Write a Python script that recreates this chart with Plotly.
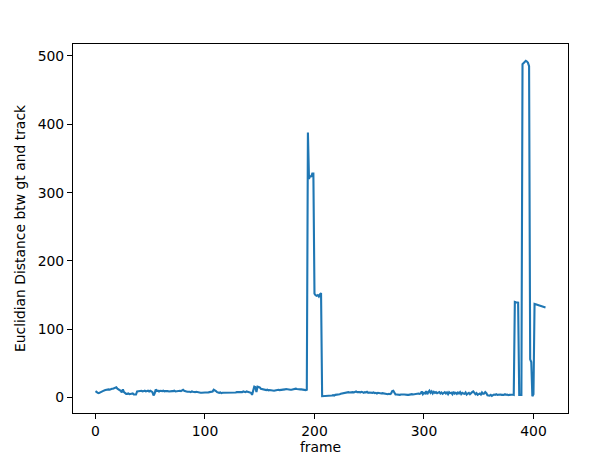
import plotly.graph_objects as go

dist = [
    9.5, 8, 7, 6.5, 7.5, 8.5, 9.5, 10, 10.5, 11,
    11.5, 12, 12, 11.5, 12.5, 13, 13, 13.5, 14, 15,
    13, 12, 11.5, 10, 7.5, 12, 8, 6, 5.5, 5.5,
    6, 5, 5.5, 5, 6, 4.5, 4, 4.5, 9, 9.5,
    9, 9.5, 10, 9, 9.5, 10, 9, 9.5, 10, 9,
    10, 9, 8, 3, 6, 12, 9.5, 10, 9, 10,
    9.5, 9.5, 10, 9, 9.5, 10, 9.5, 9, 9.5, 10,
    9.5, 9.5, 10, 9, 9.5, 9.5, 10, 10, 9.5, 10.5,
    11.5, 10, 9, 9, 8.5, 9, 8.5, 8, 9, 8.5,
    8, 8, 8.5, 8, 7, 7.5, 7, 7, 7.5, 7,
    7.5, 7.5, 7, 7.5, 8, 8, 9, 9, 11.5, 11,
    9.5, 8, 7, 7, 7.5, 6.5, 7, 7, 7.5, 7,
    7, 6.5, 7, 7, 7.5, 7, 7, 7.5, 7.5, 8,
    8, 8.5, 7.5, 8, 8, 9, 8.5, 8, 9, 8.5,
    9, 8.5, 7, 4, 9, 16, 15.5, 8, 16, 16,
    15, 13, 12.5, 13, 11.5, 11, 11, 11.5, 10.5, 11,
    10.5, 10, 10, 10, 10.5, 11, 11, 11.5, 11, 11,
    11.5, 11, 11.5, 12, 12.5, 12, 11.5, 11, 11.5, 11.5,
    12, 12.5, 13, 13, 12.5, 12, 11.5, 12, 12, 11.5,
    11.5, 11, 11, 11.5, 388, 320, 325, 323, 328, 328,
    152, 150, 149, 150, 148, 151, 153, 2, 2, 2.5,
    2.5, 3, 2.5, 2.5, 3, 3, 3, 3.5, 3, 4,
    4, 4.5, 4, 5, 5.5, 6, 6.5, 7, 7.5, 7,
    7.5, 8, 7.5, 8, 8.5, 8, 7.5, 8, 9, 8,
    8.5, 8, 7.5, 8.5, 8, 7, 8, 7.5, 8.5, 7,
    7.5, 7, 6.5, 7, 7.5, 6.5, 7, 6, 7, 6.5,
    6.5, 6, 6.5, 6, 5.5, 6, 5.5, 5, 5.5, 5,
    6, 9.5, 10, 7.5, 4.5, 4.5, 4, 4.5, 4, 4.5,
    4, 4.5, 4.5, 4, 4.5, 4, 4, 4.5, 4, 5,
    4.5, 5, 5.5, 5, 5.5, 6, 5.5, 6, 9, 5,
    7, 6, 9.5, 5, 8, 10, 7, 9, 6, 8.5,
    7, 8, 6.5, 7, 8, 6, 7.5, 5.5, 7, 8,
    6, 7.5, 5, 8, 6.5, 7, 5, 8.5, 6, 7,
    5.5, 7.5, 6, 8, 5, 7, 6, 5.5, 7.5, 4.5,
    6, 7, 5, 7.5, 8, 9, 6, 5, 6.5, 4,
    5, 6, 4.5, 7.5, 5.5, 6, 8, 6.5, 3.5, 3,
    3, 4, 2.5, 3.5, 4.5, 4, 5, 4, 4.5, 4,
    4.5, 4, 3.5, 4, 5, 4, 4.5, 3.5, 4, 4.5,
    4, 4.5, 4, 140, 139.5, 139.5, 139, 4, 3.5, 4,
    488, 490, 491, 493, 492, 490, 485, 56, 52, 2,
    5, 137, 136.5, 136, 135.5, 135, 134.5, 134, 133.5, 133,
    132.5, 132,
]
frames = list(range(len(dist)))

x_ticks = [0, 100, 200, 300, 400]
y_ticks = [0, 100, 200, 300, 400, 500]
x_label = "frame"
y_label = "Euclidian Distance btw gt and track"

def padded(lo, hi, frac=0.05):
    s = hi - lo
    return [lo - frac * s, hi + frac * s]

font = dict(family="DejaVu Sans", size=13.9, color="black")

fig = go.Figure(
    go.Scatter(
        x=frames, y=dist, mode="lines",
        line=dict(color="#1f77b4", width=2.1),
        showlegend=False,
    )
)

axis_common = dict(
    showgrid=False, zeroline=False, showline=True, mirror=True,
    linecolor="black", linewidth=1.1, ticks="outside", ticklen=5,
    tickwidth=1.1, tickcolor="black", tickfont=font, automargin=False,
)

# page body has an 8px default margin, so the figure is sized to fit the window
fig.update_layout(
    width=608, height=456,
    margin=dict(l=65, r=48, t=36, b=51),
    paper_bgcolor="white", plot_bgcolor="white",
    font=font,
    xaxis=dict(
        range=padded(min(frames), max(frames)),
        tickvals=x_ticks, ticktext=[str(v) for v in x_ticks],
        title=dict(text=x_label, font=font, standoff=4),
        **axis_common,
    ),
    yaxis=dict(
        range=padded(min(dist), max(dist)),
        tickvals=y_ticks, ticktext=[str(v) for v in y_ticks],
        title=dict(text=y_label, font=font, standoff=8),
        **axis_common,
    ),
)

fig.write_html("out.html")
